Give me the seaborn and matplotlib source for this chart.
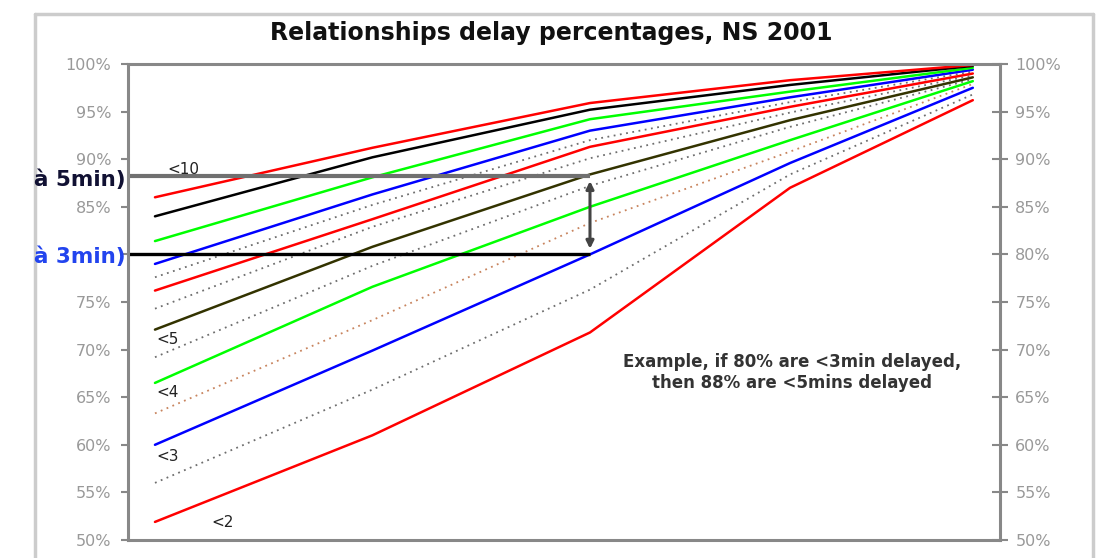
import pandas as pd
import matplotlib.pyplot as plt
import seaborn as sns
from matplotlib.lines import Line2D
from matplotlib.ticker import FuncFormatter

# positions along the (unlabelled) x axis
x_pos = [0, 1, 2, 2.92, 3.76]

# delay percentages per threshold
lt2 = [51.9, 61.0, 71.8, 87.0, 96.2]
lt2_5 = [56.0, 65.8, 76.3, 88.4, 96.8]
lt3 = [60.0, 69.9, 80.0, 89.6, 97.5]
lt3_5 = [63.3, 73.1, 83.3, 90.8, 97.9]
lt4 = [66.5, 76.6, 85.0, 92.0, 98.2]
lt4_5 = [69.2, 78.8, 87.2, 93.4, 98.4]
lt5 = [72.1, 80.8, 88.4, 94.1, 98.6]
lt5_5 = [74.3, 82.9, 90.1, 94.9, 98.8]
lt6 = [76.2, 83.7, 91.3, 95.5, 99.0]
lt6_5 = [77.6, 85.2, 92.0, 96.0, 99.2]
lt7 = [79.0, 86.3, 93.0, 96.5, 99.4]
lt8 = [81.4, 88.1, 94.2, 97.1, 99.6]
lt9 = [84.0, 90.2, 95.2, 97.8, 99.8]
lt10 = [86.0, 91.2, 95.9, 98.3, 99.9]

series = {
    "<2": lt2, "<2.5": lt2_5, "<3": lt3, "<3.5": lt3_5, "<4": lt4,
    "<4.5": lt4_5, "<5": lt5, "<5.5": lt5_5, "<6": lt6, "<6.5": lt6_5,
    "<7": lt7, "<8": lt8, "<9": lt9, "<10": lt10,
}

colors = {
    "<2": "#ff0000", "<2.5": "#6e6e6e", "<3": "#0000ff", "<3.5": "#c8845e",
    "<4": "#00ff00", "<4.5": "#6e6e6e", "<5": "#333300", "<5.5": "#6e6e6e",
    "<6": "#ff0000", "<6.5": "#6e6e6e", "<7": "#0000ff", "<8": "#00ff00",
    "<9": "#000000", "<10": "#ff0000",
}
dotted = ["<2.5", "<3.5", "<4.5", "<5.5", "<6.5"]

rows = []
for name, vals in series.items():
    for xv, yv in zip(x_pos, vals):
        rows.append({"x": xv, "pct": yv, "series": name})
df = pd.DataFrame(rows)

dashes = {k: ((1, 2.5) if k in dotted else "") for k in series}
sizes = {k: (1.3 if k in dotted else 1.8) for k in series}

sns.set_theme(style="white")
plt.rcParams["font.family"] = ["DejaVu Sans"]

fig = plt.figure(figsize=(11, 5.58), dpi=100)
ax = fig.add_axes([128 / 1100, 1 - 540 / 558, 872 / 1100, 476 / 558])

sns.lineplot(data=df, x="x", y="pct", hue="series", style="series", size="series",
             palette=colors, dashes=dashes, sizes=sizes, legend=False, ax=ax)

ax.set_xlim(-0.124, 3.885)
ax.set_ylim(50, 100)
ax.set_xticks([])
ax.set_xlabel("")
ax.set_ylabel("")
yticks = list(range(50, 101, 5))
ax.set_yticks(yticks)
# left 80% label is hidden behind the "à 3min)" note
ax.yaxis.set_major_formatter(FuncFormatter(lambda v, p: "" if round(v) == 80 else f"{v:.0f}%"))
ax.tick_params(axis="y", direction="out", length=5, width=1.5, color="#888888",
               labelsize=11.5, labelcolor="#999999", pad=7, left=True)
for s in ax.spines.values():
    s.set_color("#888888")
    s.set_linewidth(2.2)

ax2 = ax.twinx()
ax2.set_ylim(50, 100)
ax2.set_yticks(yticks)
ax2.yaxis.set_major_formatter(FuncFormatter(lambda v, p: f"{v:.0f}%"))
ax2.tick_params(axis="y", direction="inout", length=12, width=1.5, color="#888888",
                labelsize=11.5, labelcolor="#999999", pad=5)
for s in ax2.spines.values():
    s.set_visible(False)

# example: 80% <3min -> 88% <5min
ax.hlines(88.2, -0.124, 2, color="#707070", lw=3)
ax.hlines(80.0, -0.124, 2, color="#000000", lw=2.4)
ax.annotate("", xy=(2, 80.3), xytext=(2, 88.0),
            arrowprops=dict(arrowstyle="<|-|>", color="#444444", lw=2.2, mutation_scale=11))

ax.text(2.93, 67.6, "Example, if 80% are <3min delayed,\nthen 88% are <5mins delayed",
        ha="center", va="center", fontsize=12, fontweight="bold", color="#333333",
        linespacing=1.25)

# threshold labels
for lab, xv, yv in [("<10", 0.13, 88.9), ("<5", 0.06, 71.1), ("<4", 0.06, 65.5),
                    ("<3", 0.06, 58.8), ("<2", 0.31, 51.8)]:
    ax.text(xv, yv, lab, ha="center", va="center", fontsize=11, color="#222222")

fig.text(126 / 1100, 1 - 186 / 558, "à 5min)", ha="right", va="baseline",
         fontsize=15.5, fontweight="bold", color="#111133")
fig.text(126 / 1100, 1 - 263 / 558, "à 3min)", ha="right", va="baseline",
         fontsize=15.5, fontweight="bold", color="#2244ee")

fig.text(551 / 1100, 1 - 33 / 558, "Relationships delay percentages, NS 2001",
         ha="center", va="center", fontsize=17, fontweight="bold", color="#111111")

# outer chart frame
frame_kw = dict(color="#cccccc", lw=2.5, transform=fig.transFigure)
fig.add_artist(Line2D([35 / 1100, 35 / 1100], [0, 1 - 14 / 558], **frame_kw))
fig.add_artist(Line2D([35 / 1100, 1093 / 1100], [1 - 14 / 558, 1 - 14 / 558], **frame_kw))
fig.add_artist(Line2D([1093 / 1100, 1093 / 1100], [0, 1 - 14 / 558], **frame_kw))

fig.savefig("out.png", dpi=100)
